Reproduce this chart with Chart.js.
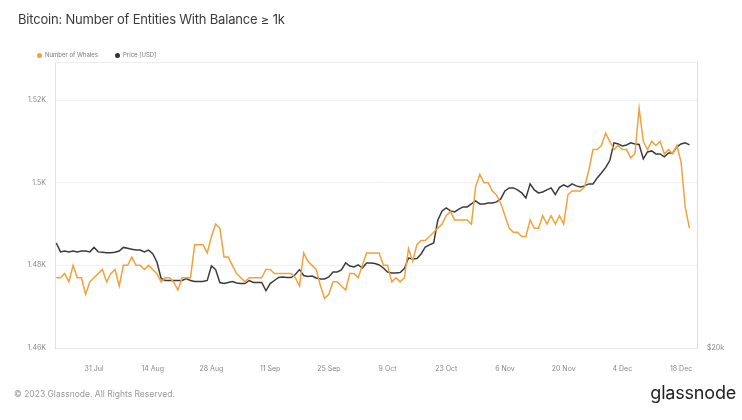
<!DOCTYPE html>
<html>
<head>
<meta charset="utf-8">
<script src="https://cdn.jsdelivr.net/npm/chart.js@4.4.1/dist/chart.umd.min.js"></script>
<style>
  body { margin: 0; background: #fff; font-family: Inter, "Noto Sans", sans-serif; }
  #wrap { position: relative; width: 742px; height: 420px; overflow: hidden; }
  #chart { position: absolute; left: 0; top: 0; }
  .title { position: absolute; left: 18px; top: 11px; font-size: 13px; letter-spacing: -0.2px; color: #3a3a3a; white-space: nowrap; }
  .legend { position: absolute; top: 51px; font-size: 6px; color: #777; white-space: nowrap; }
  .legend i { display: inline-block; width: 5px; height: 5px; border-radius: 50%; margin-right: 3px; vertical-align: -0.5px; }
  .footer { position: absolute; left: 14px; top: 389px; font-size: 8.5px; color: #999; white-space: nowrap; }
  .logo { position: absolute; right: 6px; top: 382px; font-size: 18px; color: #222; letter-spacing: -0.2px; }
</style>
</head>
<body>
<div id="wrap">
  <canvas id="chart" width="742" height="420"></canvas>
  <div class="title">Bitcoin: Number of Entities With Balance ≥ 1k</div>
  <div class="legend" style="left:37px"><i style="background:#f0a23b"></i>Number of Whales</div>
  <div class="legend" style="left:115px"><i style="background:#333"></i>Price [USD]</div>
  <div class="footer">© 2023 Glassnode. All Rights Reserved.</div>
  <div class="logo">glassnode</div>
</div>
<script>
// daily values, day 0 = 22 Jul
const whales = [
  1477,1477,1478,1476,1480,1477,1477,1473,1476,1477,1478,1479,1476,1478,1479,1475,
  1480,1480,1482,1480,1480,1479,1480,1479,1478,1476,1477,1477,1476,1474,1477,1477,
  1477,1485,1485,1485,1483,1487,1490,1489,1482,1482,1480,1478,1477,1476,1477,1477,
  1477,1477,1479,1479,1478,1478,1478,1478,1478,1477,1475,
  1483,1481,1480,1479,1475,1472,1473,1476,1476,1475,1474,1478,1478,1477,1480,1483,
  1483,1483,1483,1480,1480,1476,1477,1476,1477,1484,1481,1485,1486,1486,1487,1488,
  1489,1490,1492,1493,1491,1491,1491,1491,1490,1499,1502,1500,1500,1498,1497,1495,
  1492,1489,1488,1488,1487,1487,1491,1489,1489,1492,1490,1492,1490,1492,1490,1497,
  1498,1498,1498,1499,1503,1508,1508,1509,1512,1510,1508,1509,1508,1508,1506,1507,
  1518,1510,1508,1510,1509,1510,1507,1508,1507,1509,1505,1494,1489
]

const price = [
  29900,28900,29000,28900,29000,28900,29000,29000,28900,29400,28900,28850,28800,28800,28850,29000,
  29400,29300,29200,29100,29100,28900,29100,28700,27800,26100,25900,25900,25900,25900,25900,26100,
  25900,25800,25800,25800,25900,27400,27000,25700,25600,25700,25800,25650,25600,25600,25900,25700,
  25700,25700,24900,25600,25900,26200,26250,26200,26200,26500,27000,26400,26300,
  26350,26150,26050,26050,26250,26760,26760,26970,27700,27380,27280,27490,27170,27700,27700,27650,
  27490,27170,26760,26660,26660,26700,27100,28230,28130,28180,28670,29450,29680,29900,32660,33810,
  34200,33810,33680,34050,34330,34330,34720,35120,34720,34720,34860,34860,35000,35400,36500,36920,
  36920,36640,36220,35540,37500,36640,36220,36360,36640,36920,36000,37000,37350,37060,37490,37210,
  37060,37210,37490,37490,38360,39100,39900,41000,43870,43700,43370,43530,43870,43700,43600,41260,
  42380,42540,42060,42060,41600,42220,42220,43200,43700,43870,43530
]

const tickDays = [9,23,37,51,65,79,93,107,121,135,149]
const tickLabels = ['31 Jul','14 Aug','28 Aug','11 Sep','25 Sep','9 Oct','23 Oct','6 Nov','20 Nov','4 Dec','18 Dec']
const whaleTicks = [1460,1480,1500,1520]
const priceTicks = [20000]

const tickFont = { family: 'Inter', size: 7 }

const topLine = {
  id: 'topLine',
  afterDraw(chart) {
    const { ctx, chartArea } = chart
    ctx.save()
    ctx.strokeStyle = '#eeeeee'
    ctx.lineWidth = 1
    ctx.beginPath()
    ctx.moveTo(chartArea.left, chartArea.top + 0.5)
    ctx.lineTo(chartArea.right, chartArea.top + 0.5)
    ctx.stroke()
    ctx.restore()
  }
}

new Chart(document.getElementById('chart'), {
  type: 'line',
  data: {
    datasets: [{
      label: 'Number of Whales',
      data: whales.map((v, i) => ({ x: i, y: v })),
      borderColor: '#f0a23b',
      borderWidth: 1.5,
      pointRadius: 0,
      tension: 0,
      yAxisID: 'y'
    }, {
      label: 'Price [USD]',
      data: price.map((v, i) => ({ x: i, y: v })),
      borderColor: '#3b3b3b',
      borderWidth: 1.5,
      pointRadius: 0,
      tension: 0,
      yAxisID: 'y2'
    }]
  },
  options: {
    responsive: false,
    animation: false,
    layout: { padding: { top: 62, left: 0, right: 0, bottom: 0 } },
    plugins: { legend: { display: false }, tooltip: { enabled: false } },
    scales: {
      x: {
        type: 'linear',
        min: -0.31,
        max: 152.8,
        grid: { display: false },
        border: { display: true, color: '#e8e8e8' },
        afterBuildTicks: s => { s.ticks = tickDays.map(v => ({ value: v })) },
        afterFit: s => { s.height = 72 },
        ticks: {
          autoSkip: false,
          maxRotation: 0,
          padding: 9,
          color: '#888',
          font: tickFont,
          callback: v => tickLabels[tickDays.indexOf(v)]
        }
      },
      y: {
        position: 'left',
        min: 1460,
        max: 1529.2,
        grid: { color: '#f0f0f0', drawTicks: false },
        border: { display: true, color: 'rgba(240,162,59,0.35)' },
        afterBuildTicks: s => { s.ticks = whaleTicks.map(v => ({ value: v })) },
        afterFit: s => { s.width = 55 },
        ticks: {
          padding: 9,
          color: '#888',
          font: tickFont,
          callback: v => (v / 1000) + 'K'
        }
      },
      y2: {
        type: 'logarithmic',
        position: 'right',
        min: 20000,
        max: 59800,
        grid: { display: false, drawTicks: false },
        border: { display: true, color: '#dddddd' },
        afterBuildTicks: s => { s.ticks = priceTicks.map(v => ({ value: v })) },
        afterFit: s => { s.width = 45 },
        ticks: {
          padding: 10,
          color: '#888',
          font: tickFont,
          callback: v => '$' + (v / 1000) + 'k'
        }
      }
    }
  },
  plugins: [topLine]
})
</script>
</body>
</html>
